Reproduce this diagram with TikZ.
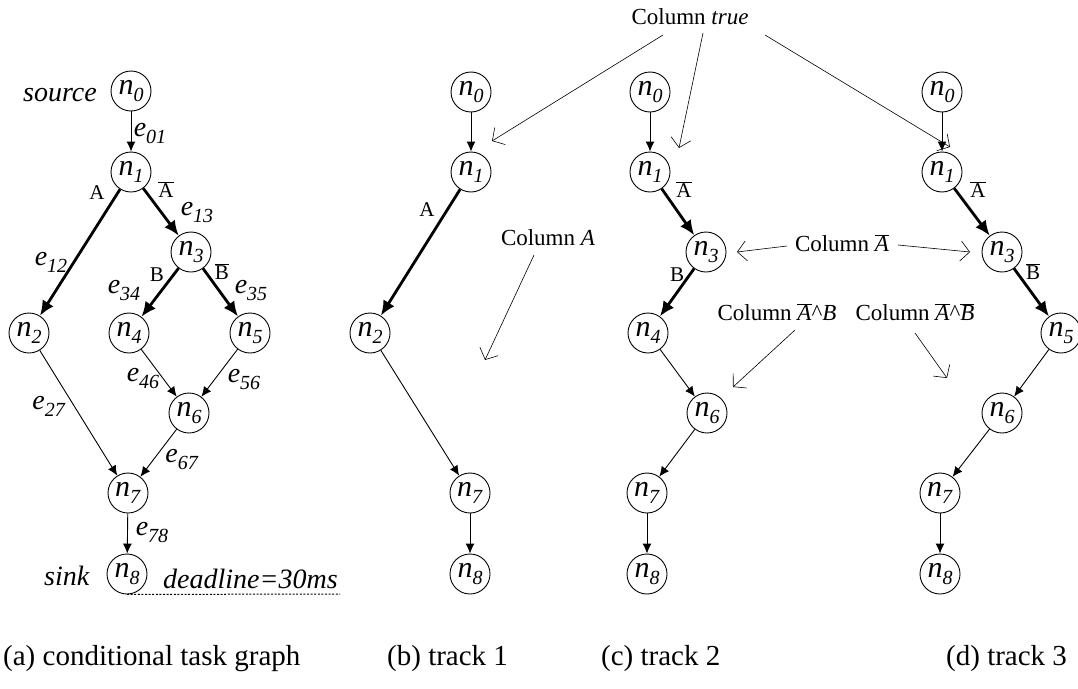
\documentclass[tikz,border=0pt]{standalone}
\usepackage{fontspec}
\setmainfont{Liberation Serif}
\usetikzlibrary{arrows.meta}

% italic symbol with a lowered italic index, e.g. n_0 or e_01
\newcommand\nsub[2]{\textit{#1}\raisebox{-7pt}{\fontsize{20}{20}\selectfont\textit{#2}}}
% negated condition: letter with a bar over it
\newcommand\ovl[1]{\ensuremath{\overline{\mbox{#1}}}}

\tikzset{
  task/.style={circle, draw, line width=0.9pt, minimum size=40pt, inner sep=0pt,
    font=\fontsize{30}{30}\selectfont},
  flow/.style={line width=0.9pt, -{Latex[length=10pt,width=9pt]}},
  cond/.style={line width=2.8pt, -{Latex[length=15pt,width=13pt]}},
  elabel/.style={font=\fontsize{28}{28}\selectfont, inner sep=0pt},
  clabel/.style={font=\fontsize{21}{21}\selectfont, inner sep=0pt},
  coltext/.style={font=\fontsize{23}{23}\selectfont, inner sep=0pt},
  colarrow/.style={line width=0.6pt, -{Straight Barb[length=9pt,width=20pt]}},
  deadline line/.style={line width=1pt, dash pattern=on 2pt off 1.6pt},
  caption/.style={font=\fontsize{29}{29}\selectfont, inner sep=0pt, anchor=base west},
}

\begin{document}
\begin{tikzpicture}[x=1pt, y=-1pt]
\useasboundingbox (0,0) rectangle (1078,688);

% ---------- (a) conditional task graph ----------
\node[task] (a0) at (131,91)  {\nsub{n}{0}};
\node[task] (a1) at (131,172) {\nsub{n}{1}};
\node[task] (a3) at (191,252) {\nsub{n}{3}};
\node[task] (a2) at (29,333)  {\nsub{n}{2}};
\node[task] (a4) at (129,333) {\nsub{n}{4}};
\node[task] (a5) at (250,333) {\nsub{n}{5}};
\node[task] (a6) at (189,413) {\nsub{n}{6}};
\node[task] (a7) at (128,493) {\nsub{n}{7}};
\node[task] (a8) at (127,574) {\nsub{n}{8}};

\draw[flow] (a0) -- (a1);
\draw[cond] (a1) -- (a2);
\draw[cond] (a1) -- (a3);
\draw[cond] (a3) -- (a4);
\draw[cond] (a3) -- (a5);
\draw[flow] (a2) -- (a7);
\draw[flow] (a4) -- (a6);
\draw[flow] (a5) -- (a6);
\draw[flow] (a6) -- (a7);
\draw[flow] (a7) -- (a8);

\node[elabel] (src) at (60,95) {\textit{source}};
\node[elabel] (snk) at (67,576) {\textit{sink}};
\node[elabel] (e01) at (150,133) {\nsub{e}{01}};
\node[clabel] (la1) at (97,193) {A};
\node[clabel] (lna1) at (166,190) {\ovl{A}};
\node[elabel] (e13) at (197,212) {\nsub{e}{13}};
\node[elabel] (e12) at (51,262) {\nsub{e}{12}};
\node[clabel] (lb1) at (157,275) {B};
\node[clabel] (lnb1) at (222,272) {\ovl{B}};
\node[elabel] (e34) at (124,290) {\nsub{e}{34}};
\node[elabel] (e35) at (251,290) {\nsub{e}{35}};
\node[elabel] (e46) at (143,378) {\nsub{e}{46}};
\node[elabel] (e56) at (244,379) {\nsub{e}{56}};
\node[elabel] (e27) at (49,406) {\nsub{e}{27}};
\node[elabel] (e67) at (182,459) {\nsub{e}{67}};
\node[elabel] (e78) at (152,532) {\nsub{e}{78}};
\node[elabel, anchor=base west] (dl) at (163,588) {\textit{deadline=30ms}};
\coordinate (dlend) at (340,594);
\draw[deadline line] (a8.south) -- (dlend);

% ---------- (b) track 1 ----------
\node[task] (b0) at (471,92)  {\nsub{n}{0}};
\node[task] (b1) at (471,172) {\nsub{n}{1}};
\node[task] (b2) at (370,333) {\nsub{n}{2}};
\node[task] (b7) at (470,493) {\nsub{n}{7}};
\node[task] (b8) at (470,574) {\nsub{n}{8}};
\draw[flow] (b0) -- (b1);
\draw[cond] (b1) -- (b2);
\draw[flow] (b2) -- (b7);
\draw[flow] (b7) -- (b8);
\node[clabel] (la2) at (427,210) {A};

% ---------- (c) track 2 ----------
\node[task] (c0) at (650,92)  {\nsub{n}{0}};
\node[task] (c1) at (650,172) {\nsub{n}{1}};
\node[task] (c3) at (706,252) {\nsub{n}{3}};
\node[task] (c4) at (648,333) {\nsub{n}{4}};
\node[task] (c6) at (707,413) {\nsub{n}{6}};
\node[task] (c7) at (647,493) {\nsub{n}{7}};
\node[task] (c8) at (647,574) {\nsub{n}{8}};
\draw[flow] (c0) -- (c1);
\draw[cond] (c1) -- (c3);
\draw[cond] (c3) -- (c4);
\draw[flow] (c4) -- (c6);
\draw[flow] (c6) -- (c7);
\draw[flow] (c7) -- (c8);
\node[clabel] (lna3) at (684,190) {\ovl{A}};
\node[clabel] (lb3) at (677,275) {B};

% ---------- (d) track 3 ----------
\node[task] (d0) at (942,92)  {\nsub{n}{0}};
\node[task] (d1) at (942,172) {\nsub{n}{1}};
\node[task] (d3) at (1002,252) {\nsub{n}{3}};
\node[task] (d5) at (1061,333) {\nsub{n}{5}};
\node[task] (d6) at (1002,413) {\nsub{n}{6}};
\node[task] (d7) at (940,493) {\nsub{n}{7}};
\node[task] (d8) at (940,574) {\nsub{n}{8}};
\draw[flow] (d0) -- (d1);
\draw[cond] (d1) -- (d3);
\draw[cond] (d3) -- (d5);
\draw[flow] (d5) -- (d6);
\draw[flow] (d6) -- (d7);
\draw[flow] (d7) -- (d8);
\node[clabel] (lna4) at (978,190) {\ovl{A}};
\node[clabel] (lnb4) at (1033,272) {\ovl{B}};

% ---------- column annotations ----------
\node[coltext] (coltrue) at (690,17) {Column \textit{true}};
\coordinate (t1s) at (663,35);  \coordinate (t1e) at (492,141);
\coordinate (t2s) at (703,33);  \coordinate (t2e) at (679,148);
\coordinate (t3s) at (765,35);  \coordinate (t3e) at (950,147);
\draw[colarrow] (t1s) -- (t1e);
\draw[colarrow] (t2s) -- (t2e);
\draw[colarrow] (t3s) -- (t3e);

\node[coltext] (colA) at (548,238) {Column \textit{A}};
\coordinate (as) at (534,255);  \coordinate (ae) at (485,360);
\draw[colarrow] (as) -- (ae);

\node[coltext] (colnA) at (842,243) {Column \ovl{\textit{A}}};
\coordinate (nas1) at (787,246); \coordinate (nae1) at (737,252);
\coordinate (nas2) at (898,245); \coordinate (nae2) at (970,252);
\draw[colarrow] (nas1) -- (nae1);
\draw[colarrow] (nas2) -- (nae2);

\node[coltext] (colnAB) at (777,312) {Column \ovl{\textit{A}}\textasciicircum\textit{B}};
\coordinate (nabs) at (795,330); \coordinate (nabe) at (733,387);
\draw[colarrow] (nabs) -- (nabe);

\node[coltext] (colnAnB) at (915,312) {Column \ovl{\textit{A}}\textasciicircum\ovl{\textit{B}}};
\coordinate (nanbs) at (915,333); \coordinate (nanbe) at (947,378);
\draw[colarrow] (nanbs) -- (nanbe);

% ---------- captions ----------
\node[caption] (capa) at (3,665)   {(a) conditional task graph};
\node[caption] (capb) at (387,665) {(b) track 1};
\node[caption] (capc) at (601,665) {(c) track 2};
\node[caption] (capd) at (946,665) {(d) track 3};
\end{tikzpicture}
\end{document}
